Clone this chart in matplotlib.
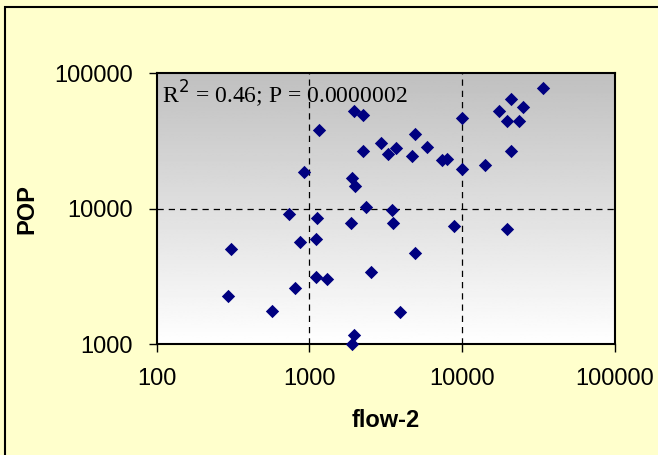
import numpy as np
import matplotlib
matplotlib.use("Agg")
import matplotlib.pyplot as plt
from matplotlib.patches import Rectangle

# flow-2 vs POP
flow = [293, 306, 568, 803, 731, 873, 918, 1110, 1300, 1110, 1130, 1153,
        1875, 1910, 1996, 1960, 2250, 2250, 2355, 2525, 1960, 1910,
        2952, 3250, 3710, 3482, 3525, 3900, 4690, 4900, 4900, 5885,
        7340, 7970, 8870, 9940, 9940, 14070, 17320, 20800, 19780, 23440,
        24980, 20800, 19540, 33650]
pop = [2285, 5070, 1763, 2600, 9180, 5650, 18540, 3120, 3030, 5940, 8490, 38000,
       7890, 16760, 14690, 52150, 49300, 26600, 10230, 3435, 1172, 1000,
       30330, 25290, 28180, 9720, 7890, 1722, 24600, 35340, 4690, 28640,
       22860, 23380, 7450, 46900, 19500, 21100, 52150, 63950, 44540, 44540,
       56500, 26600, 7130, 77100]

x_ticks = [100, 1000, 10000, 100000]
y_ticks = [1000, 10000, 100000]
note = "R$^2$ = 0.46; P = 0.0000002"

plt.rcParams['font.family'] = ['Liberation Sans', 'DejaVu Sans']

fig = plt.figure(figsize=(6.58, 4.55), dpi=100, facecolor='#FFFFCC')
fig.patches.append(Rectangle((5/658, -0.1), 1.2, 1 - 7/455 + 0.1, transform=fig.transFigure,
                             fill=False, edgecolor='black', linewidth=1.5))

ax = fig.add_axes([156.5/658, 1 - 344.3/455, 458.5/658, 271.3/455])
ax.set_xscale('log')
ax.set_yscale('log')
ax.set_xlim(100, 100000)
ax.set_ylim(1000, 100000)

# grey (top) to white (bottom) background
grad = np.linspace(0.75, 1.0, 256).reshape(-1, 1)
ax.imshow(grad, cmap='gray', vmin=0, vmax=1, aspect='auto', extent=[0, 1, 0, 1],
          transform=ax.transAxes, zorder=0)

for v in [1000, 10000]:
    ax.axvline(v, color='black', linestyle=(0, (5, 4)), linewidth=0.9, zorder=1)
ax.axhline(10000, color='black', linestyle=(0, (5, 4)), linewidth=0.9, zorder=1)

ax.scatter(flow, pop, marker='D', s=46, color='#000080', zorder=3, linewidths=0,
           clip_on=False)

ax.set_xticks(x_ticks)
ax.set_xticklabels([str(t) for t in x_ticks])
ax.set_yticks(y_ticks)
ax.set_yticklabels([str(t) for t in y_ticks])
ax.minorticks_off()
ax.tick_params(axis='both', length=6, width=1, labelsize=17, direction='out')
ax.tick_params(axis='x', pad=11)
ax.tick_params(axis='y', pad=11)
for s in ax.spines.values():
    s.set_linewidth(1.5)

ax.set_xlabel('flow-2', fontsize=17, fontweight='bold', labelpad=14)
ax.set_ylabel('POP', fontsize=17, fontweight='bold', labelpad=11)

ax.text(0.011, 0.889, note, transform=ax.transAxes, fontsize=17,
        family=['Liberation Serif', 'DejaVu Serif'], zorder=4)

fig.savefig('out.png', dpi=100, facecolor=fig.get_facecolor())
